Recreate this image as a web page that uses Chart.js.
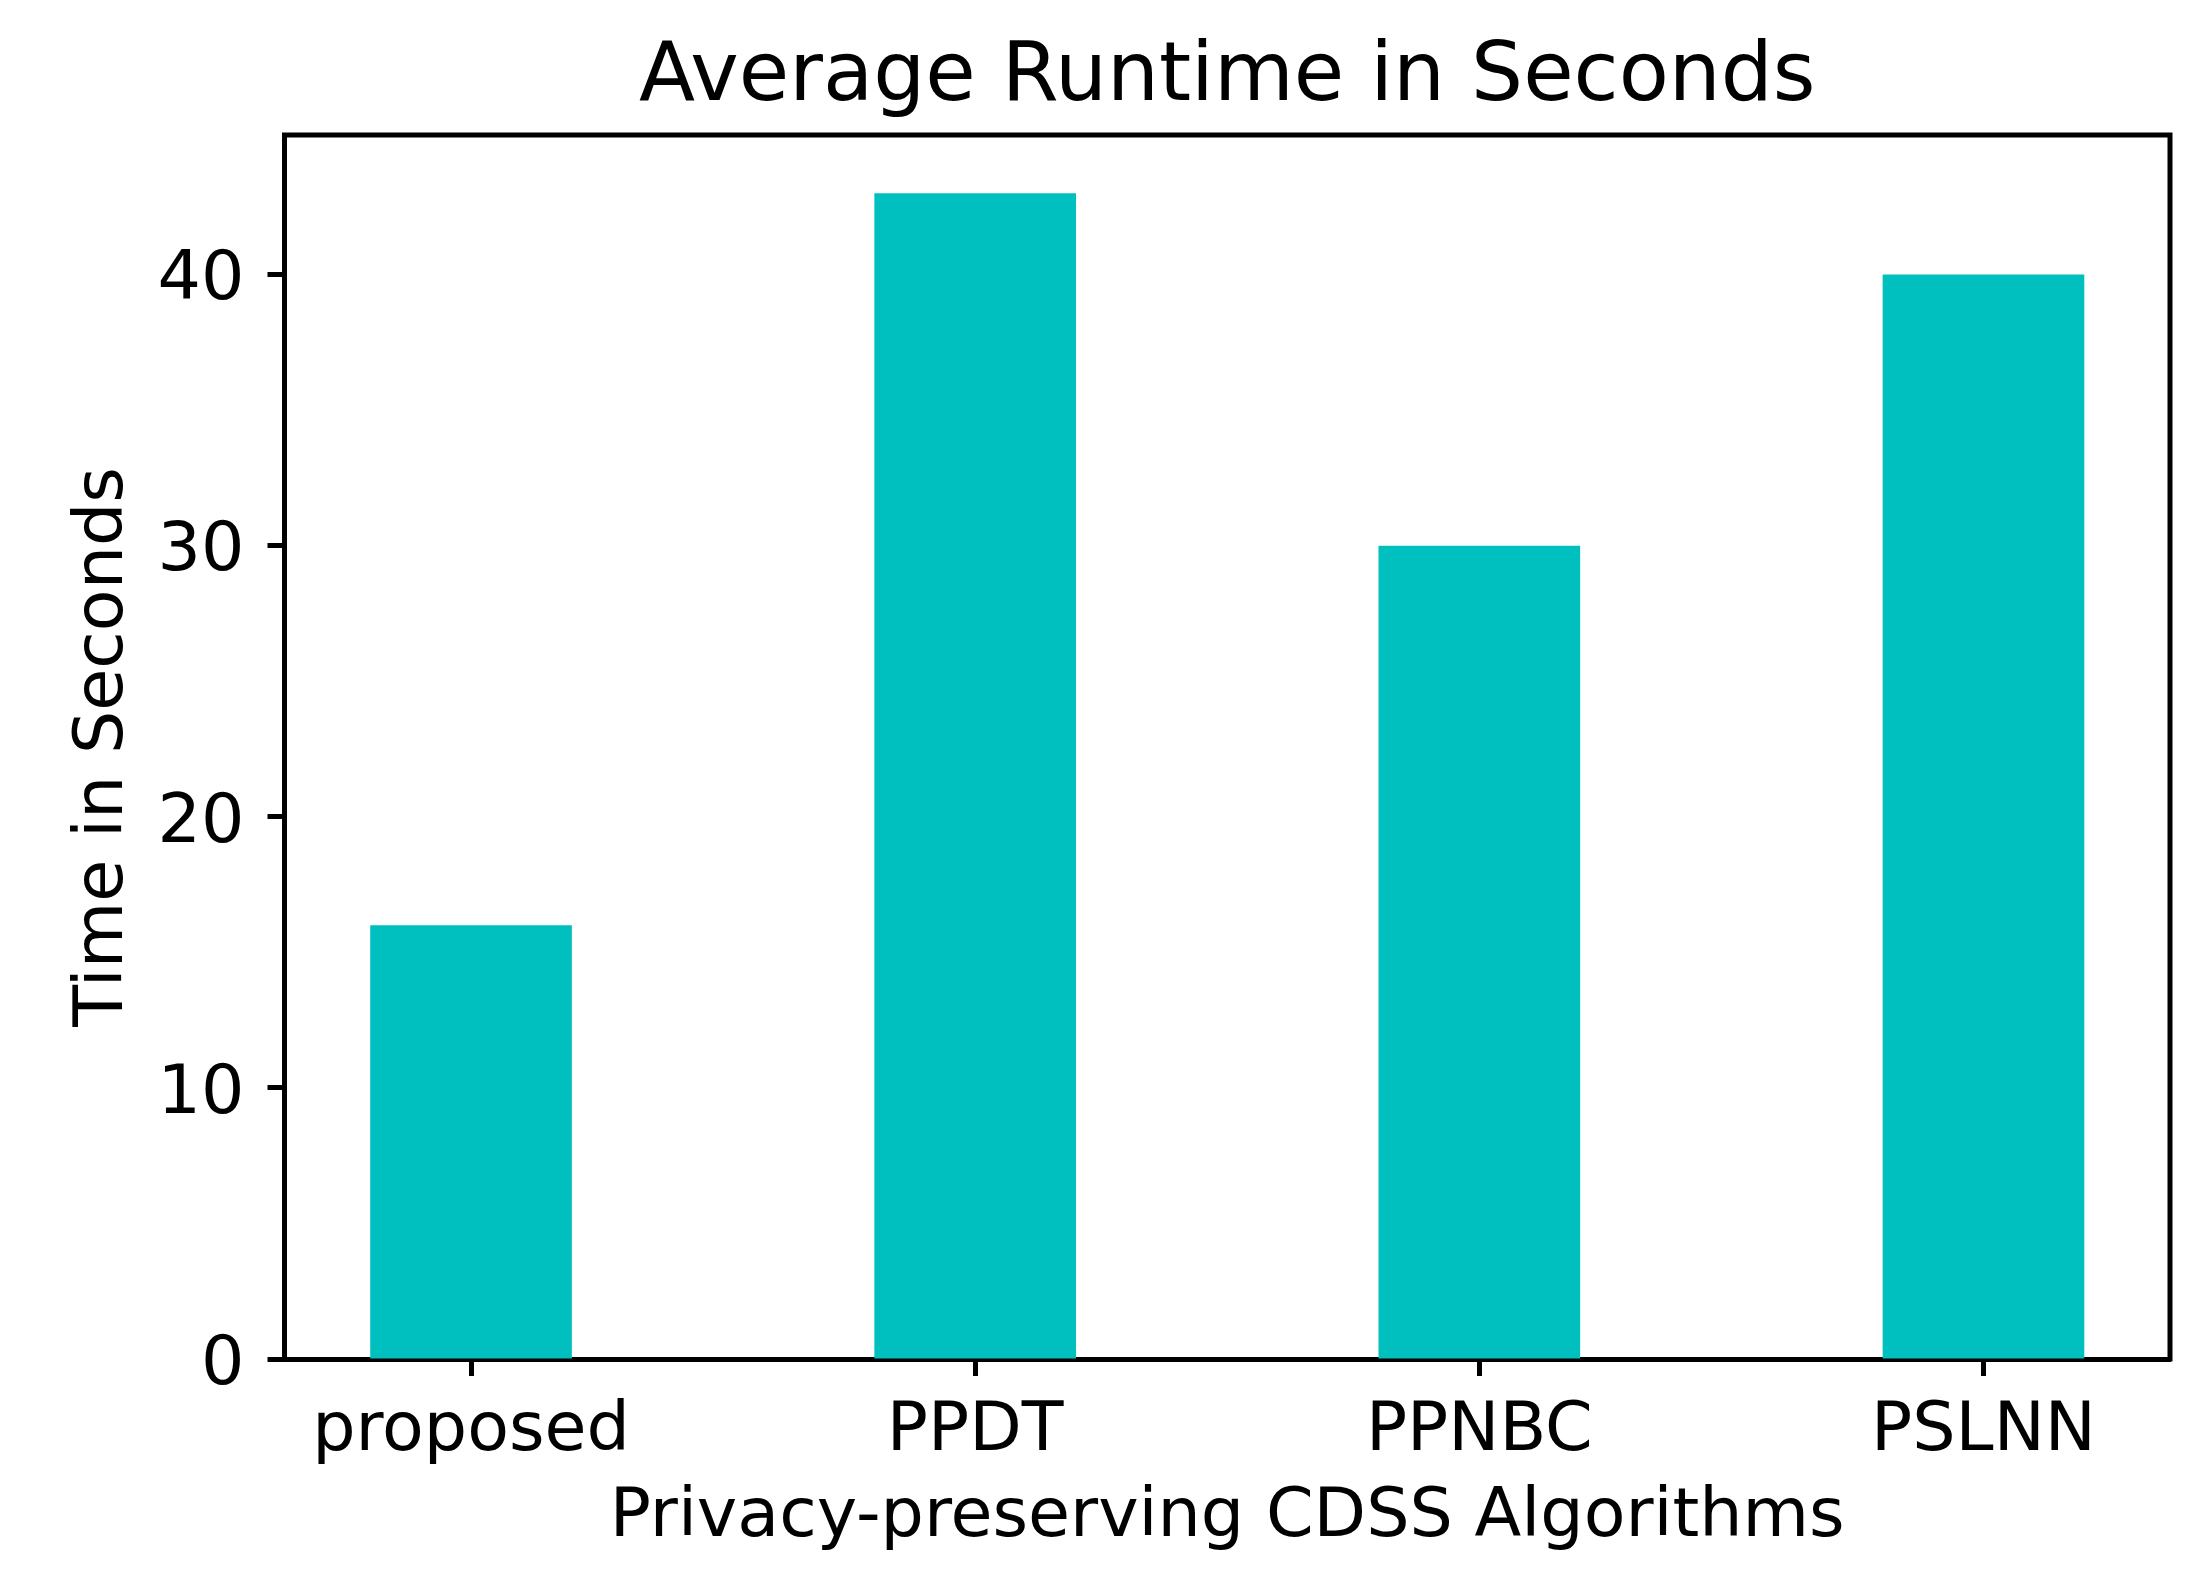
<!DOCTYPE html>
<html>
<head>
<meta charset="utf-8">
<script src="https://cdn.jsdelivr.net/npm/chart.js@4.4.1/dist/chart.umd.min.js"></script>
<style>
  html, body { margin: 0; padding: 0; background: #ffffff; }
  #wrap { width: 2208px; height: 1575px; }
</style>
</head>
<body>
<div id="wrap"><canvas id="c" width="2208" height="1575"></canvas></div>
<script>
const chartTitle = "Average Runtime in Seconds";
const xAxisTitle = "Privacy-preserving CDSS Algorithms";
const yAxisTitle = "Time in Seconds";
const categories = ["proposed", "PPDT", "PPNBC", "PSLNN"];
const runtimes = [16, 43, 30, 40];
const yTicks = [0, 10, 20, 30, 40];
const yMax = 45.15;
const xMin = -0.37;
const xMax = 3.37;

const FONT = '"DejaVu Sans", "Liberation Sans", sans-serif';
const LABEL_SIZE = 68.3;
const TITLE_SIZE = 82;
Chart.defaults.font.family = FONT;
Chart.defaults.color = '#000000';

const points = runtimes.map((v, i) => ({ x: i, y: v }));

const framePlugin = {
  id: 'frame',
  afterDraw(chart) {
    const ctx = chart.ctx;
    const a = chart.chartArea;
    ctx.save();
    ctx.strokeStyle = '#000000';
    ctx.lineWidth = 5;
    ctx.lineCap = 'square';
    ctx.beginPath();
    ctx.moveTo(a.left, a.top);
    ctx.lineTo(a.right, a.top);
    ctx.lineTo(a.right, a.bottom);
    ctx.stroke();
    ctx.fillStyle = '#000000';
    ctx.font = TITLE_SIZE + 'px ' + FONT;
    ctx.textAlign = 'center';
    ctx.textBaseline = 'alphabetic';
    ctx.fillText(chartTitle, (a.left + a.right) / 2, 100);
    ctx.restore();
  }
};

new Chart(document.getElementById('c'), {
  type: 'bar',
  data: {
    datasets: [{
      label: yAxisTitle,
      data: points,
      backgroundColor: '#00bfbf',
      borderWidth: 0,
      barPercentage: 0.4,
      categoryPercentage: 1.0
    }]
  },
  options: {
    responsive: false,
    animation: false,
    devicePixelRatio: 1,
    layout: { padding: { left: 0, right: 38, top: 135, bottom: 0 } },
    plugins: {
      legend: { display: false },
      tooltip: { enabled: false },
      title: { display: false }
    },
    scales: {
      x: {
        type: 'linear',
        min: xMin,
        max: xMax,
        offset: false,
        afterBuildTicks(scale) { scale.ticks = categories.map((c, i) => ({ value: i })); },
        afterFit(scale) { scale.height = 216; },
        ticks: {
          font: { size: LABEL_SIZE },
          color: '#000000',
          padding: 15,
          maxRotation: 0,
          autoSkip: false,
          callback: (v) => categories[v]
        },
        grid: {
          display: true,
          offset: false,
          drawOnChartArea: false,
          drawTicks: true,
          tickLength: 17,
          tickWidth: 5,
          tickColor: '#000000'
        },
        border: { display: true, color: '#000000', width: 5 },
        title: {
          display: true,
          text: xAxisTitle,
          font: { size: LABEL_SIZE },
          color: '#000000',
          padding: { top: 0, bottom: 16 }
        }
      },
      y: {
        type: 'linear',
        min: 0,
        max: yMax,
        afterBuildTicks(scale) { scale.ticks = yTicks.map(v => ({ value: v })); },
        afterFit(scale) { scale.width = 284.5; },
        ticks: {
          font: { size: LABEL_SIZE },
          color: '#000000',
          padding: 23,
          labelOffset: 7,
          callback: (v) => String(v)
        },
        grid: {
          display: true,
          drawOnChartArea: false,
          drawTicks: true,
          tickLength: 17,
          tickWidth: 5,
          tickColor: '#000000'
        },
        border: { display: true, color: '#000000', width: 5 },
        title: {
          display: true,
          text: yAxisTitle,
          font: { size: LABEL_SIZE },
          color: '#000000',
          padding: { top: 63, bottom: 0 }
        }
      }
    }
  },
  plugins: [framePlugin]
});
</script>
</body>
</html>
